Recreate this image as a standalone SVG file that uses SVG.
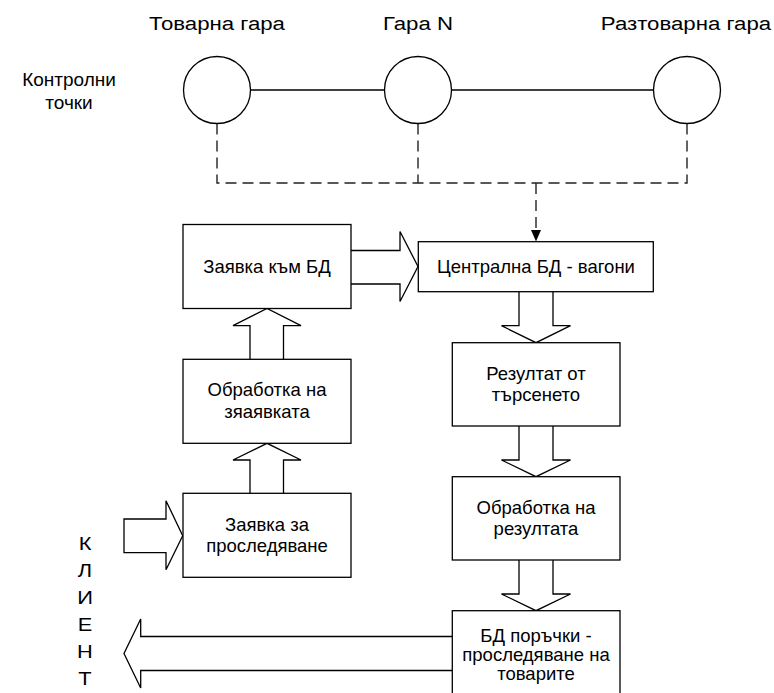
<svg xmlns="http://www.w3.org/2000/svg" width="774" height="693" viewBox="0 0 774 693">
<defs>
<style>
.t{font-family:"Liberation Sans",Arial,sans-serif;font-size:18.5px;fill:#000;text-anchor:middle}
.top{font-size:19px}
.side{font-size:19px}
.box{fill:#fff;stroke:#000;stroke-width:1.3}
.arr{fill:#fff;stroke:#000;stroke-width:1.3;stroke-linejoin:miter}
.ln{fill:none;stroke:#000;stroke-width:1.3}
.dash{fill:none;stroke:#222;stroke-width:1.4;stroke-dasharray:11 6}
</style>
</defs>
<rect width="774" height="693" fill="#fff"/>

<g id="labels">
<text class="t top" transform="translate(217,29.5) scale(1.17,1)">Товарна гара</text>
<text class="t top" transform="translate(418,29.5) scale(1.17,1)">Гара N</text>
<text class="t top" transform="translate(686,29.5) scale(1.17,1)">Разтоварна гара</text>
<text class="t side" x="69" y="86">Контролни</text>
<text class="t side" x="69" y="109">точки</text>
</g>

<g id="client">
<text class="t side" transform="translate(85,550) scale(1.15,1)">К</text>
<text class="t side" transform="translate(85,577) scale(1.15,1)">Л</text>
<text class="t side" transform="translate(85,604) scale(1.15,1)">И</text>
<text class="t side" transform="translate(85,631) scale(1.15,1)">Е</text>
<text class="t side" transform="translate(85,658) scale(1.15,1)">Н</text>
<text class="t side" transform="translate(85,685) scale(1.15,1)">Т</text>
</g>

<g id="connectors">
<line class="ln" x1="250.5" y1="90" x2="384.5" y2="90"/>
<line class="ln" x1="451.5" y1="90" x2="653.5" y2="90"/>
<path class="dash" d="M217,123.5 V183 H687 V123.5"/>
<path class="dash" d="M418,123.5 V183"/>
<path class="dash" d="M536,183 V230"/>
<polygon points="531,230 541,230 536,241.5" fill="#000"/>
<path class="arr" d="M351,250.5 H400 V231.5 L418,266.5 L400,301.5 V284 H351"/>
<path class="arr" d="M250,359.3 V325.7 H233 L267,308.5 L301,325.7 H283.5 V359.3"/>
<path class="arr" d="M250,493.3 V460 H233 L267,443.3 L301,460 H283.5 V493.3"/>
<path class="arr" d="M124,519 H166 V500.7 L182.7,535.7 L166,569.7 V552.7 H124 Z"/>
<path class="arr" d="M519,291.7 V325.7 H501.5 L536,342.7 L570.5,325.7 H553 V291.7"/>
<path class="arr" d="M519,426 V460 H501.5 L536,476.7 L570.5,460 H553 V426"/>
<path class="arr" d="M519,560 V594 H501.5 L536,610.7 L570.5,594 H553 V560"/>
<path class="arr" d="M452.3,636.5 H140.7 V619 L124,653.5 L140.7,688 V670.5 H452.3"/>
</g>

<g id="cp1"><circle class="box" cx="217" cy="90" r="33.5"/></g>
<g id="cp2"><circle class="box" cx="418" cy="90" r="33.5"/></g>
<g id="cp3"><circle class="box" cx="687" cy="90" r="33.5"/></g>

<g id="n-zayavka-bd">
<rect class="box" x="183" y="224.5" width="168" height="84"/>
<text class="t" x="267" y="273">Заявка към БД</text>
</g>
<g id="n-obrabotka-zayavka">
<rect class="box" x="183" y="359.3" width="168" height="84"/>
<text class="t" x="267" y="396">Обработка на</text>
<text class="t" x="267" y="418">зяаявката</text>
</g>
<g id="n-zayavka-prosl">
<rect class="box" x="183" y="493.3" width="168" height="84"/>
<text class="t" x="267" y="530.5">Заявка за</text>
<text class="t" x="267" y="552">проследяване</text>
</g>
<g id="n-central">
<rect class="box" x="418.3" y="241.7" width="235" height="50"/>
<text class="t" x="536" y="273">Централна БД - вагони</text>
</g>
<g id="n-rezultat">
<rect class="box" x="452.3" y="342.7" width="167.7" height="83.3"/>
<text class="t" x="536" y="380">Резултат от</text>
<text class="t" x="536" y="401">търсенето</text>
</g>
<g id="n-obrabotka-rez">
<rect class="box" x="452.3" y="476.7" width="167.7" height="83.3"/>
<text class="t" x="536" y="513.5">Обработка на</text>
<text class="t" x="536" y="535">резултата</text>
</g>
<g id="n-bd-poruchki">
<rect class="box" x="452.3" y="610.7" width="167.7" height="100"/>
<text class="t" x="536" y="641.5">БД поръчки -</text>
<text class="t" x="536" y="660.5">проследяване на</text>
<text class="t" x="536" y="679.5">товарите</text>
</g>
</svg>
